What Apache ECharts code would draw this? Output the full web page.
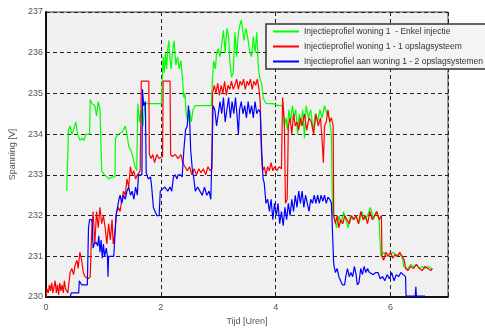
<!DOCTYPE html>
<html><head><meta charset="utf-8">
<script src="https://cdn.jsdelivr.net/npm/echarts@6/dist/echarts.min.js"></script>
<style>html,body{margin:0;padding:0;background:#fff}#c{width:485px;height:331px}</style>
</head><body><div id="c"></div>
<script>
const seriesNames = [
  'Injectieprofiel woning 1  - Enkel injectie',
  'Injectieprofiel woning 1 - 1 opslagsysteem',
  'Injectieprofiel aan woning 1 - 2 opslagsystemen'
];
const xTicks = [0, 2, 4, 6];
const yTicks = [230, 231, 232, 233, 234, 235, 236, 237];

// [tijd (uren), spanning (V)]
const greenData = [[0.36,232.6],[0.38,233.5],[0.39,234.1],[0.42,234.2],[0.45,234.0],[0.48,234.1],[0.52,234.3],[0.55,234.0],[0.59,233.85],[0.63,233.9],[0.66,233.85],[0.70,234.0],[0.76,234.0],[0.77,234.85],[0.80,234.75],[0.85,234.7],[0.88,234.45],[0.91,234.8],[0.94,234.6],[0.96,234.6],[0.97,233.1],[1.02,233.0],[1.06,232.95],[1.09,232.9],[1.15,232.95],[1.20,232.95],[1.21,233.9],[1.26,234.0],[1.32,234.05],[1.35,234.1],[1.38,234.2],[1.41,234.0],[1.44,233.7],[1.48,233.6],[1.52,233.4],[1.55,233.2],[1.58,233.1],[1.60,234.75],[1.63,234.3],[1.66,234.6],[1.69,234.2],[1.72,234.75],[1.76,234.75],[2.01,234.75],[2.02,235.2],[2.04,235.9],[2.06,235.5],[2.08,236.0],[2.10,235.6],[2.12,236.1],[2.14,236.3],[2.16,235.8],[2.18,235.6],[2.20,236.0],[2.23,236.3],[2.26,235.7],[2.29,235.9],[2.32,235.6],[2.35,235.8],[2.38,235.3],[2.40,234.9],[2.42,235.0],[2.44,234.5],[2.47,234.3],[2.50,234.6],[2.53,234.3],[2.56,234.6],[2.60,234.7],[2.88,234.7],[2.90,235.4],[2.92,235.8],[2.95,235.6],[2.97,236.0],[3.00,236.1],[3.03,235.9],[3.06,236.2],[3.09,236.55],[3.12,236.0],[3.15,236.6],[3.18,236.4],[3.20,235.8],[3.23,235.4],[3.26,235.5],[3.29,236.5],[3.32,235.9],[3.35,236.5],[3.38,236.7],[3.40,236.8],[3.43,236.5],[3.45,236.3],[3.48,236.6],[3.51,236.4],[3.55,236.0],[3.58,235.9],[3.61,236.4],[3.64,236.0],[3.67,236.5],[3.70,235.6],[3.72,235.4],[3.76,235.2],[3.78,234.9],[3.81,234.8],[3.84,234.75],[3.95,234.75],[4.05,234.7],[4.13,234.7],[4.15,234.2],[4.18,234.4],[4.20,234.1],[4.23,234.6],[4.26,234.3],[4.29,234.7],[4.32,234.4],[4.35,234.6],[4.38,234.0],[4.41,234.5],[4.44,234.2],[4.47,234.6],[4.50,233.9],[4.53,234.7],[4.57,234.4],[4.61,234.6],[4.65,234.1],[4.69,234.5],[4.73,234.3],[4.77,234.6],[4.81,234.4],[4.85,234.7],[4.89,234.5],[4.93,234.4],[4.97,234.0],[4.99,232.0],[5.03,231.9],[5.06,231.7],[5.10,232.0],[5.14,231.8],[5.18,232.1],[5.22,231.9],[5.26,231.7],[5.30,232.0],[5.35,231.9],[5.40,232.0],[5.45,231.8],[5.50,232.1],[5.55,231.9],[5.60,232.0],[5.65,232.2],[5.70,231.9],[5.75,232.1],[5.80,231.9],[5.83,231.0],[5.88,231.1],[5.93,231.0],[6.00,231.05],[6.05,231.1],[6.10,231.0],[6.15,231.05],[6.20,231.0],[6.23,230.75],[6.30,230.7],[6.35,230.8],[6.40,230.75],[6.45,230.8],[6.50,230.7],[6.55,230.75],[6.60,230.7],[6.65,230.75],[6.72,230.7]];

const redData = [[0.00,230.0],[0.02,230.2],[0.04,230.1],[0.06,230.3],[0.08,230.15],[0.10,230.35],[0.12,230.1],[0.14,230.25],[0.16,230.4],[0.18,230.1],[0.20,230.3],[0.22,230.05],[0.24,230.35],[0.26,230.15],[0.28,230.3],[0.30,230.1],[0.32,230.4],[0.34,230.2],[0.36,230.15],[0.38,230.1],[0.40,230.1],[0.42,230.6],[0.45,230.7],[0.48,230.55],[0.51,230.8],[0.54,230.9],[0.56,230.7],[0.59,231.1],[0.62,230.9],[0.65,230.6],[0.68,230.5],[0.71,230.5],[0.74,230.45],[0.77,230.5],[0.79,231.4],[0.82,232.1],[0.85,231.3],[0.88,232.1],[0.91,231.7],[0.94,232.2],[0.97,231.8],[1.00,232.0],[1.03,231.7],[1.06,231.3],[1.09,231.8],[1.12,231.4],[1.15,231.9],[1.17,231.3],[1.20,231.6],[1.23,232.1],[1.26,232.2],[1.29,232.1],[1.32,232.4],[1.35,232.6],[1.38,232.5],[1.41,232.9],[1.44,232.7],[1.47,233.2],[1.50,233.0],[1.53,233.1],[1.56,232.9],[1.59,233.0],[1.64,233.1],[1.66,235.3],[1.72,235.3],[1.79,235.3],[1.80,233.5],[1.83,233.4],[1.86,233.5],[1.89,233.3],[1.93,233.5],[1.97,233.4],[2.03,233.45],[2.04,235.3],[2.10,235.3],[2.16,235.3],[2.17,233.5],[2.20,233.45],[2.25,233.5],[2.30,233.4],[2.35,233.5],[2.38,233.3],[2.42,233.2],[2.46,233.1],[2.50,233.2],[2.54,233.0],[2.58,233.15],[2.62,233.0],[2.66,233.15],[2.70,233.05],[2.74,233.15],[2.78,233.0],[2.82,233.2],[2.86,233.1],[2.89,233.15],[2.90,235.0],[2.93,235.2],[2.96,235.0],[2.99,235.25],[3.02,234.95],[3.05,235.2],[3.08,235.0],[3.11,235.3],[3.14,234.95],[3.17,235.2],[3.20,235.1],[3.23,235.3],[3.26,235.1],[3.29,235.2],[3.32,235.35],[3.35,235.1],[3.38,235.3],[3.41,235.2],[3.44,235.35],[3.47,235.1],[3.50,235.3],[3.53,235.2],[3.56,235.35],[3.59,235.1],[3.62,235.3],[3.65,235.2],[3.68,235.35],[3.71,235.1],[3.73,234.8],[3.75,233.6],[3.77,233.1],[3.80,233.2],[3.83,233.0],[3.86,233.2],[3.89,233.1],[3.92,233.3],[3.95,233.1],[3.98,233.2],[4.02,233.1],[4.06,233.2],[4.10,233.15],[4.12,234.9],[4.15,234.3],[4.17,232.3],[4.20,232.4],[4.22,234.2],[4.25,234.4],[4.28,234.0],[4.31,234.5],[4.34,234.2],[4.37,234.3],[4.40,234.1],[4.43,234.4],[4.46,234.2],[4.50,234.5],[4.54,234.1],[4.58,234.4],[4.62,234.3],[4.66,234.0],[4.70,234.5],[4.74,234.2],[4.78,234.4],[4.81,233.8],[4.83,233.3],[4.85,234.2],[4.88,234.3],[4.91,234.6],[4.94,234.3],[4.97,234.4],[5.00,234.2],[5.01,232.0],[5.04,231.8],[5.07,232.0],[5.10,231.7],[5.13,231.9],[5.17,231.8],[5.20,232.0],[5.24,231.9],[5.28,231.8],[5.32,232.0],[5.36,231.9],[5.40,232.0],[5.44,231.8],[5.48,232.1],[5.52,231.9],[5.56,232.0],[5.60,231.8],[5.64,232.1],[5.68,231.9],[5.72,232.0],[5.76,232.1],[5.80,231.9],[5.84,232.0],[5.85,231.0],[5.88,230.9],[5.92,231.1],[5.96,231.0],[6.00,231.1],[6.04,230.95],[6.08,231.05],[6.12,231.0],[6.16,231.1],[6.20,231.0],[6.24,230.9],[6.26,230.7],[6.30,230.65],[6.35,230.75],[6.40,230.7],[6.45,230.8],[6.50,230.7],[6.55,230.65],[6.60,230.75],[6.65,230.7],[6.70,230.65],[6.73,230.7]];

const blueData = [[0.42,230.0],[0.44,230.1],[0.52,230.1],[0.57,230.1],[0.58,230.4],[0.60,230.4],[0.62,230.3],[0.68,230.3],[0.72,230.3],[0.74,231.7],[0.76,231.9],[0.80,231.9],[0.82,231.2],[0.84,231.3],[0.87,231.35],[0.90,231.25],[0.92,231.5],[0.94,231.1],[0.96,231.4],[0.98,230.95],[1.00,231.3],[1.02,231.0],[1.05,231.2],[1.07,231.0],[1.08,230.5],[1.09,231.0],[1.12,231.0],[1.18,231.0],[1.20,231.0],[1.22,232.0],[1.25,232.0],[1.27,232.4],[1.29,232.5],[1.32,232.3],[1.35,232.5],[1.38,232.4],[1.41,232.6],[1.44,232.7],[1.47,232.5],[1.50,232.6],[1.53,232.4],[1.56,232.7],[1.59,232.5],[1.61,233.0],[1.64,233.0],[1.67,233.0],[1.68,235.1],[1.70,234.7],[1.73,234.8],[1.745,233.05],[1.78,232.9],[1.82,232.95],[1.84,232.7],[1.87,232.2],[1.90,232.1],[1.93,232.0],[1.97,232.0],[1.99,232.6],[2.03,232.65],[2.07,232.7],[2.12,232.6],[2.16,232.7],[2.19,232.6],[2.22,232.95],[2.25,233.0],[2.28,232.9],[2.30,233.0],[2.34,233.0],[2.37,232.95],[2.40,233.6],[2.43,234.1],[2.46,234.2],[2.48,234.7],[2.50,234.4],[2.52,233.6],[2.55,233.1],[2.57,232.95],[2.60,232.6],[2.64,232.7],[2.68,232.6],[2.72,232.5],[2.76,232.7],[2.80,232.5],[2.84,232.6],[2.87,232.4],[2.90,232.4],[2.91,234.7],[2.94,234.6],[2.97,234.2],[3.00,234.5],[3.03,234.8],[3.06,234.5],[3.09,234.9],[3.12,234.3],[3.15,234.6],[3.18,234.9],[3.21,234.4],[3.24,234.8],[3.27,234.5],[3.30,234.9],[3.33,234.4],[3.35,234.0],[3.37,234.6],[3.40,234.8],[3.43,234.5],[3.46,234.7],[3.49,234.4],[3.52,234.8],[3.55,234.5],[3.58,234.7],[3.61,234.4],[3.64,234.8],[3.67,234.5],[3.70,234.6],[3.73,234.55],[3.76,233.45],[3.78,232.9],[3.80,232.8],[3.83,232.3],[3.86,232.4],[3.89,232.1],[3.92,232.4],[3.95,231.9],[3.98,232.3],[4.01,232.0],[4.04,232.3],[4.07,231.8],[4.10,232.1],[4.13,231.75],[4.16,232.2],[4.19,231.9],[4.22,232.3],[4.25,232.0],[4.28,232.4],[4.31,232.1],[4.34,232.5],[4.37,232.2],[4.40,232.6],[4.43,232.3],[4.46,232.6],[4.49,232.2],[4.52,232.5],[4.55,232.3],[4.58,232.1],[4.61,232.4],[4.64,232.3],[4.67,232.5],[4.70,232.3],[4.73,232.5],[4.76,232.3],[4.79,232.5],[4.82,232.35],[4.85,232.5],[4.88,232.3],[4.91,232.45],[4.94,232.4],[4.97,232.3],[5.00,232.3],[5.01,230.8],[5.04,230.6],[5.07,230.7],[5.10,230.5],[5.13,230.5],[5.16,230.3],[5.20,230.3],[5.22,230.5],[5.25,230.7],[5.28,230.5],[5.31,230.6],[5.34,230.5],[5.37,230.75],[5.40,230.55],[5.42,230.3],[5.45,230.35],[5.48,230.7],[5.51,230.55],[5.54,230.75],[5.57,230.6],[5.60,230.7],[5.63,230.6],[5.66,230.6],[5.70,230.55],[5.74,230.6],[5.78,230.6],[5.82,230.45],[5.86,230.5],[5.90,230.4],[5.94,230.55],[5.98,230.45],[6.02,230.6],[6.06,230.4],[6.10,230.55],[6.14,230.5],[6.18,230.6],[6.22,230.55],[6.26,230.5],[6.27,230.02],[6.35,230.02],[6.43,230.02],[6.44,230.25],[6.45,230.02],[6.60,230.02]];

const chart = echarts.init(document.getElementById('c'), null, {renderer: 'canvas'});
const lbl = {color: '#555', fontSize: 9, fontFamily: 'Liberation Sans, Arial, sans-serif'};
const split = {show: true, lineStyle: {color: '#222', type: [4, 3], width: 1}};
function mk(name, data, color) {
  return {name, type: 'line', data, symbol: 'none', showSymbol: false,
    lineStyle: {color, width: 1.2}, itemStyle: {color}, animation: false, z: 3};
}
chart.setOption({
  animation: false,
  backgroundColor: '#fff',
  grid: {left: 46, right: 37, top: 12, bottom: 34, show: true, backgroundColor: '#f0f0f0', borderColor: '#444', borderWidth: 1},
  xAxis: {type: 'value', min: 0, max: 7, interval: 2,
    name: 'Tijd [Uren]', nameLocation: 'middle', nameGap: 18,
    nameTextStyle: {color: '#555', fontSize: 9, fontFamily: 'Liberation Sans, Arial, sans-serif'},
    axisLine: {show: true, lineStyle: {color: '#111', width: 2}}, axisTick: {show: false},
    axisLabel: Object.assign({margin: 6, showMaxLabel: false,
      formatter: v => xTicks.includes(v) ? String(v) : ''}, lbl),
    splitLine: split},
  yAxis: {type: 'value', min: 230, max: 237, interval: 1,
    name: 'Spanning [V]', nameLocation: 'middle', nameGap: 21, nameRotate: 90,
    nameTextStyle: {color: '#555', fontSize: 9, fontFamily: 'Liberation Sans, Arial, sans-serif'},
    axisLine: {show: true, lineStyle: {color: '#111', width: 2}}, axisTick: {show: false},
    axisLabel: Object.assign({margin: 3, formatter: v => yTicks.includes(v) ? String(v) : ''}, lbl),
    splitLine: split},
  legend: {orient: 'vertical', left: 266, top: 24, padding: [3, 8, 3, 6],
    itemWidth: 26, itemHeight: 9, itemGap: 6,
    itemStyle: {opacity: 0},
    backgroundColor: '#f4f4f4', borderColor: '#333', borderWidth: 1.5,
    textStyle: {color: '#333', fontSize: 8.5, fontFamily: 'Liberation Sans, Arial, sans-serif'},
    data: seriesNames},
  series: [mk(seriesNames[0], greenData, '#00ff00'), mk(seriesNames[1], redData, '#ff0000'), mk(seriesNames[2], blueData, '#0000ff')]
});
</script></body></html>
